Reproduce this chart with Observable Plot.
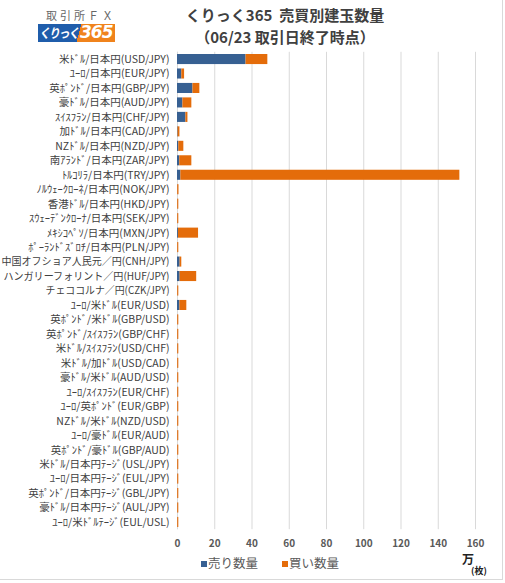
<!DOCTYPE html>
<html>
<head>
<meta charset="utf-8">
<script src="https://cdn.jsdelivr.net/npm/d3@7"></script>
<script src="https://cdn.jsdelivr.net/npm/@observablehq/plot@0.6"></script>
<style>
  body { margin: 0; background: #fff; }
  #wrap { position: relative; width: 505px; height: 583px; overflow: hidden; background: #fff; font-family: 'Noto Sans CJK JP', sans-serif; }
  .abs { position: absolute; }
</style>
</head>
<body>
<div id="wrap">
  <div class="abs" style="left:46px;top:7px;font-size:11px;letter-spacing:3px;color:#666;line-height:16px;">取引所ＦＸ</div>
  <div class="abs" style="left:38px;top:24px;width:77px;height:18px;background:linear-gradient(105deg,#1f5dab 0,#1f5dab 53%,#f0831c 53%,#f0831c 100%);"></div>
  <div class="abs" style="left:39px;top:22px;height:20px;line-height:21px;font-size:13px;font-weight:bold;font-style:italic;color:#fff;letter-spacing:-1.5px;transform:scaleX(0.85);transform-origin:left center;">くりっく</div>
  <div class="abs" style="left:80px;top:22px;height:20px;line-height:21px;font-size:17px;font-weight:bold;font-style:italic;color:#fff;font-family:'DejaVu Sans',sans-serif;letter-spacing:-1px;">365</div>
  <div class="abs" style="left:160px;top:4px;width:250px;text-align:center;font-size:15px;font-weight:bold;color:#404040;line-height:22px;">くりっく365&nbsp;&nbsp;売買別建玉数量<br>（06/23 取引日終了時点）</div>
  <div id="chart" class="abs" style="left:0;top:48px;"></div>
  <div class="abs" style="left:201px;top:555px;font-size:12.5px;color:#595959;line-height:16px;"><span style="display:inline-block;width:6px;height:6px;background:#376092;margin-right:1px;vertical-align:1px;"></span>売り数量</div>
  <div class="abs" style="left:282px;top:555px;font-size:12.5px;color:#595959;line-height:16px;"><span style="display:inline-block;width:6px;height:6px;background:#e46c0a;margin-right:1px;vertical-align:1px;"></span>買い数量</div>
  <div class="abs" style="left:462px;top:552px;font-size:12px;font-weight:bold;color:#222;line-height:14px;">万</div>
  <div class="abs" style="left:471px;top:565px;font-size:9px;font-weight:bold;color:#222;line-height:12px;">(枚)</div>
  <div class="abs" style="left:502px;top:0;width:1px;height:580px;background:#d9d9d9;"></div>
  <div class="abs" style="left:0;top:579px;width:503px;height:1px;background:#d9d9d9;"></div>
</div>
<script>
const pairs = [
  "米ﾄﾞﾙ/日本円(USD/JPY)",
  "ﾕｰﾛ/日本円(EUR/JPY)",
  "英ﾎﾟﾝﾄﾞ/日本円(GBP/JPY)",
  "豪ﾄﾞﾙ/日本円(AUD/JPY)",
  "ｽｲｽﾌﾗﾝ/日本円(CHF/JPY)",
  "加ﾄﾞﾙ/日本円(CAD/JPY)",
  "NZﾄﾞﾙ/日本円(NZD/JPY)",
  "南ｱﾗﾝﾄﾞ/日本円(ZAR/JPY)",
  "ﾄﾙｺﾘﾗ/日本円(TRY/JPY)",
  "ﾉﾙｳｪｰｸﾛｰﾈ/日本円(NOK/JPY)",
  "香港ﾄﾞﾙ/日本円(HKD/JPY)",
  "ｽｳｪｰﾃﾞﾝｸﾛｰﾅ/日本円(SEK/JPY)",
  "ﾒｷｼｺﾍﾟｿ/日本円(MXN/JPY)",
  "ﾎﾟｰﾗﾝﾄﾞｽﾞﾛﾁ/日本円(PLN/JPY)",
  "中国オフショア人民元／円(CNH/JPY)",
  "ハンガリーフォリント／円(HUF/JPY)",
  "チェココルナ／円(CZK/JPY)",
  "ﾕｰﾛ/米ﾄﾞﾙ(EUR/USD)",
  "英ﾎﾟﾝﾄﾞ/米ﾄﾞﾙ(GBP/USD)",
  "英ﾎﾟﾝﾄﾞ/ｽｲｽﾌﾗﾝ(GBP/CHF)",
  "米ﾄﾞﾙ/ｽｲｽﾌﾗﾝ(USD/CHF)",
  "米ﾄﾞﾙ/加ﾄﾞﾙ(USD/CAD)",
  "豪ﾄﾞﾙ/米ﾄﾞﾙ(AUD/USD)",
  "ﾕｰﾛ/ｽｲｽﾌﾗﾝ(EUR/CHF)",
  "ﾕｰﾛ/英ﾎﾟﾝﾄﾞ(EUR/GBP)",
  "NZﾄﾞﾙ/米ﾄﾞﾙ(NZD/USD)",
  "ﾕｰﾛ/豪ﾄﾞﾙ(EUR/AUD)",
  "英ﾎﾟﾝﾄﾞ/豪ﾄﾞﾙ(GBP/AUD)",
  "米ﾄﾞﾙ/日本円ﾃｰｼﾞ(USL/JPY)",
  "ﾕｰﾛ/日本円ﾃｰｼﾞ(EUL/JPY)",
  "英ﾎﾟﾝﾄﾞ/日本円ﾃｰｼﾞ(GBL/JPY)",
  "豪ﾄﾞﾙ/日本円ﾃｰｼﾞ(AUL/JPY)",
  "ﾕｰﾛ/米ﾄﾞﾙﾃｰｼﾞ(EUL/USL)"
];
// 万枚
const sellQty = [36.8, 2.3, 8.3, 2.9, 4.5, 0.3, 0.7, 1.2, 1.8, 0.1, 0.1, 0.1, 0.5, 0.1, 1.4, 1.4, 0.1, 1.3,
  0.1, 0.1, 0.1, 0.1, 0.1, 0.1, 0.1, 0.1, 0.1, 0.1, 0.1, 0.1, 0.1, 0.1, 0.1];
const buyQty = [11.7, 1.5, 3.7, 4.8, 1.1, 1.0, 2.7, 6.5, 149.8, 0.7, 0.6, 0.6, 10.8, 0.6, 0.9, 8.9, 0.6, 3.7,
  0.6, 0.6, 0.6, 0.6, 0.6, 0.6, 0.6, 0.6, 0.6, 0.6, 0.6, 0.6, 0.6, 0.6, 0.6];
const seriesNames = ["売り数量", "買い数量"];
const seriesColors = ["#376092", "#e46c0a"];
const xTicks = [0, 20, 40, 60, 80, 100, 120, 140, 160];
// full-width labels that the original draws condensed
const condensedLabels = {
  "中国オフショア人民元／円(CNH/JPY)": 168,
  "ハンガリーフォリント／円(HUF/JPY)": 166,
  "チェココルナ／円(CZK/JPY)": 124
};

const data = [];
pairs.forEach((p, i) => {
  data.push({pair: p, type: seriesNames[0], value: sellQty[i]});
  data.push({pair: p, type: seriesNames[1], value: buyQty[i]});
});

const chart = Plot.plot({
  width: 505,
  height: 505,
  marginLeft: 177,
  marginRight: 30,
  marginTop: 3.8,
  marginBottom: 23.8,
  style: {fontFamily: "'Noto Sans CJK JP', sans-serif", fontSize: "10.5px", color: "#404040", background: "transparent"},
  x: {domain: [0, 160], label: null},
  y: {domain: pairs, padding: 0, round: false, label: null},
  color: {domain: seriesNames, range: seriesColors},
  marks: [
    Plot.gridX(xTicks, {stroke: "#d9d9d9", strokeOpacity: 1}),
    Plot.ruleX([0], {stroke: "#d9d9d9", strokeOpacity: 1}),
    Plot.barX(data, Plot.stackX({x: "value", y: "pair", fill: "type", order: seriesNames, insetTop: 2.2, insetBottom: 2.2})),
    Plot.axisX(xTicks, {tickSize: 0, tickPadding: 10, label: null, fontWeight: "bold", fontSize: 10, fill: "#595959"}),
    Plot.axisY({tickSize: 0, tickPadding: 8, label: null, fill: "#404040"})
  ]
});
d3.select(chart).selectAll("text").each(function() {
  const t = this.textContent;
  if (condensedLabels[t]) {
    d3.select(this).attr("textLength", condensedLabels[t]).attr("lengthAdjust", "spacingAndGlyphs");
  }
});
document.getElementById("chart").appendChild(chart);
</script>
</body>
</html>
